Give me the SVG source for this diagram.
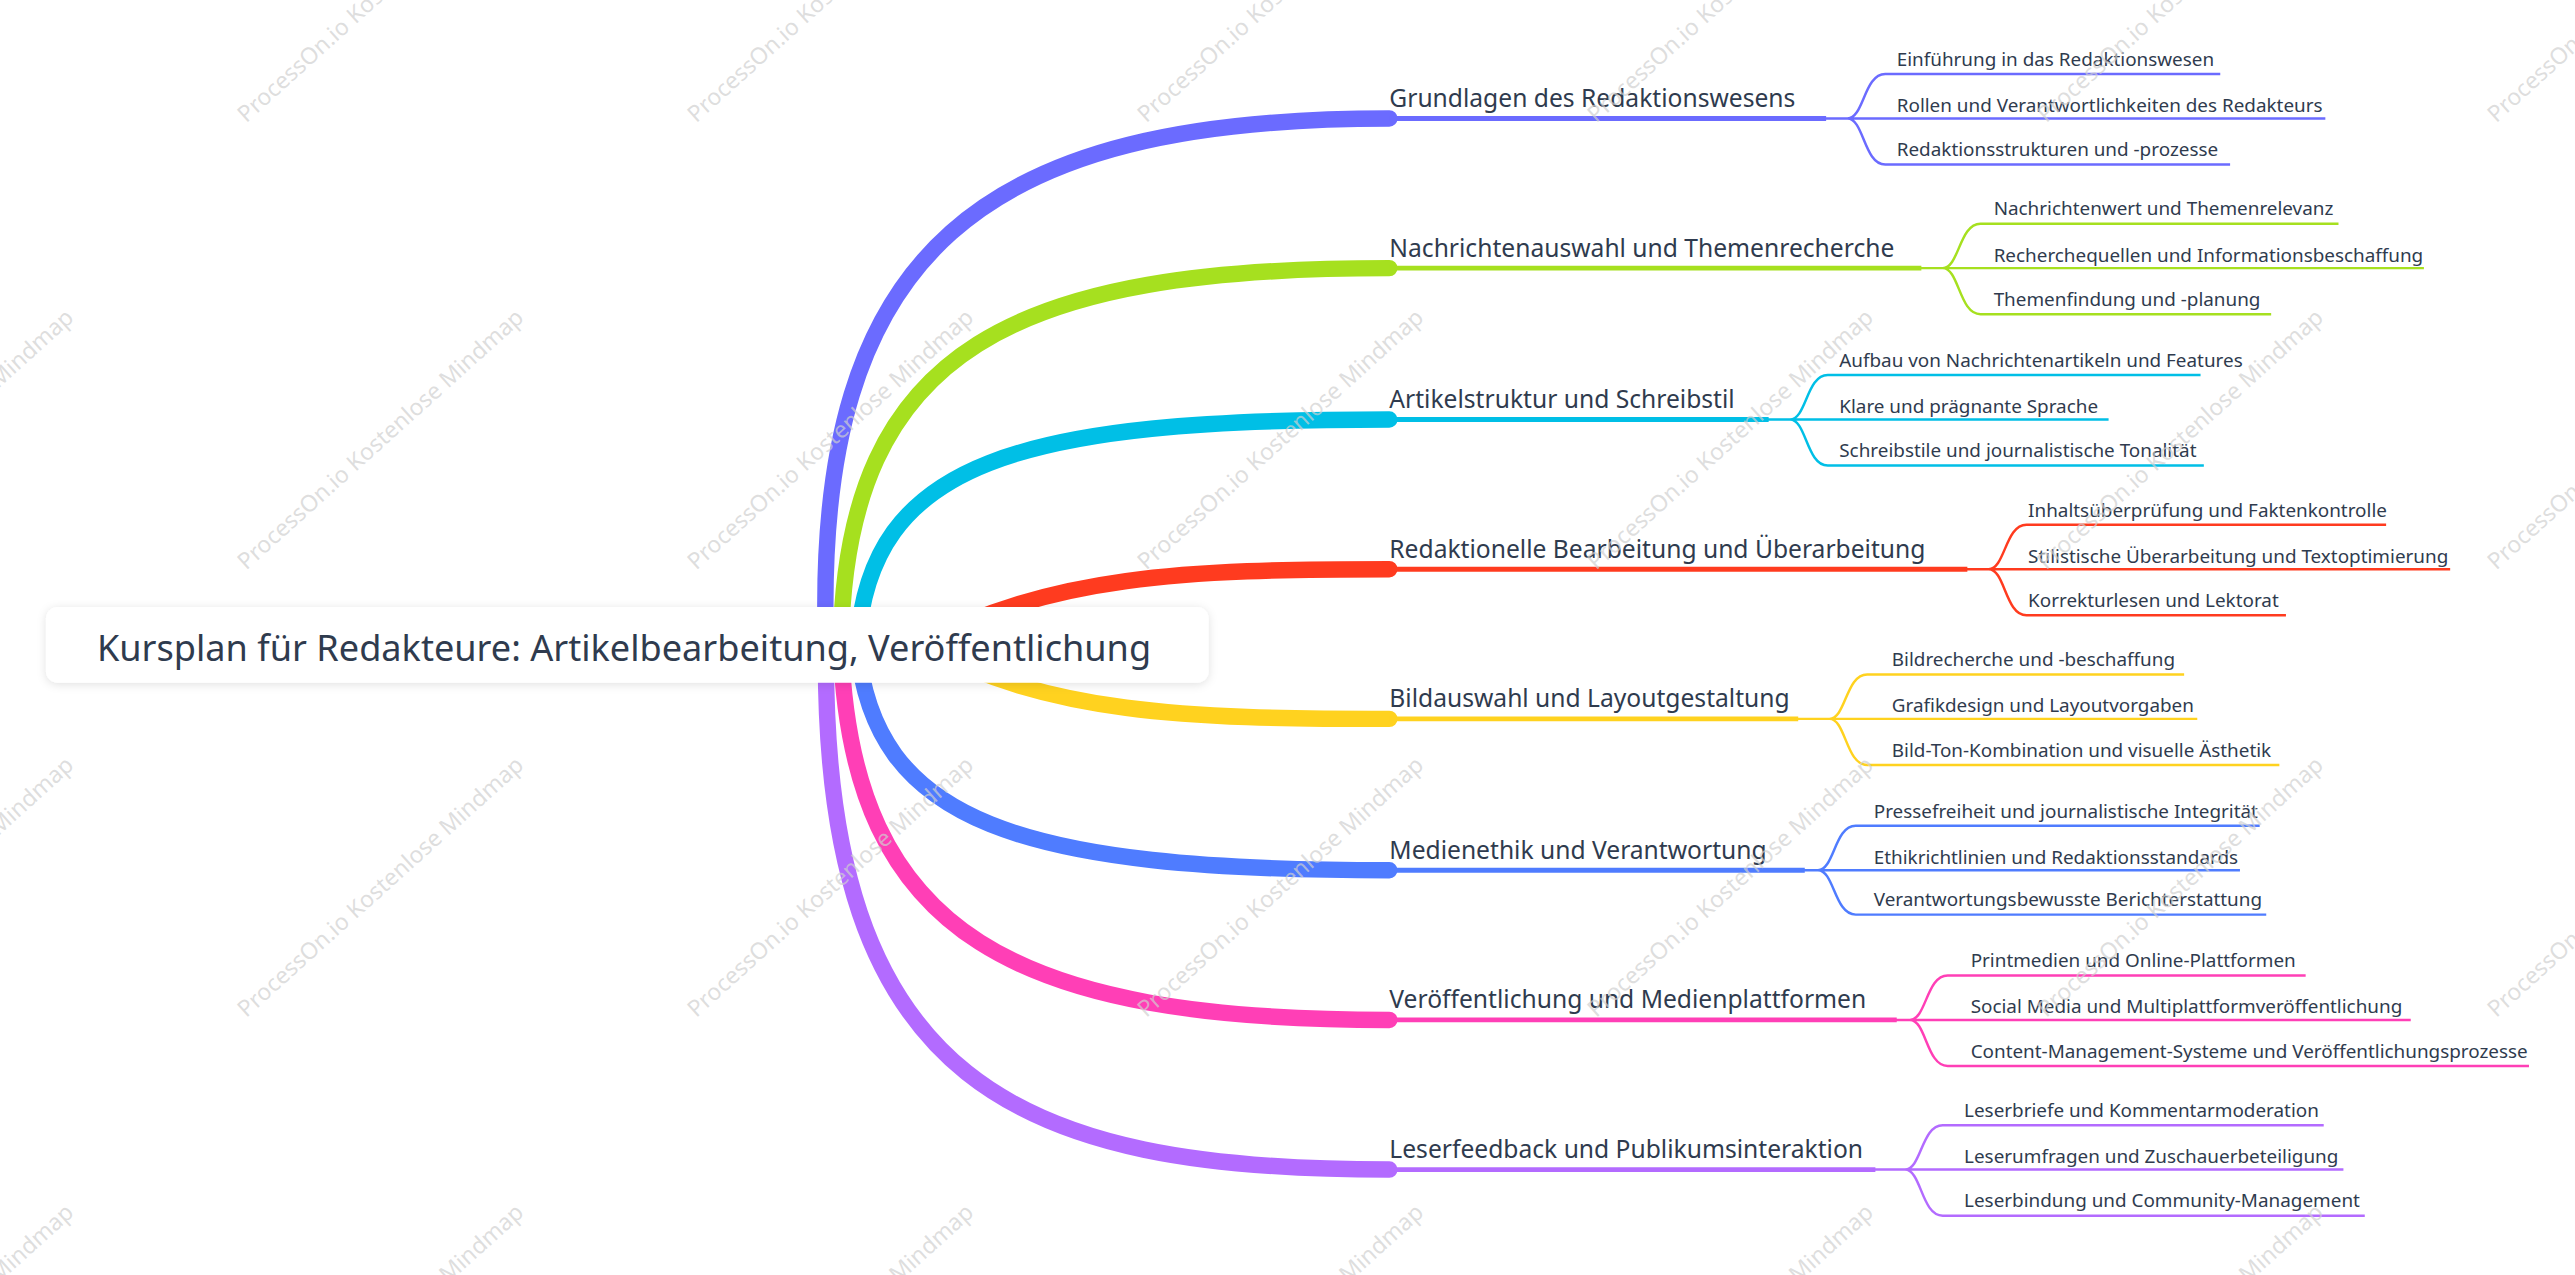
<svg xmlns="http://www.w3.org/2000/svg" width="2575" height="1275" viewBox="0 0 2575 1275">
<defs>
<style>
text{font-family:"Noto Sans","Open Sans","Liberation Sans",sans-serif;fill:#2f3b4e}
.m{font-size:15px}
.c{font-size:11.5px}
.br{fill:none;stroke-linecap:round}
.ul{fill:none;stroke-width:3}
.cl{fill:none;stroke-width:1.5}
.wm{font-size:14px;fill:#cfcfcf;fill-opacity:0.7}
</style>
<filter id="sh" x="-5%" y="-30%" width="110%" height="160%"><feDropShadow dx="0" dy="1" stdDeviation="3" flood-color="#000" flood-opacity="0.12"/></filter>
</defs>
<rect width="2575" height="1275" fill="#fff"/>
<g transform="scale(1.6422,1.645)">
<g id="connectors">
<path class="br" stroke="#6b6bff" stroke-width="10" d="M503 392 C495 150 600 72 846 72"/>
<path class="br" stroke="#a6e01f" stroke-width="10" d="M512 392 C515 210 620 163 846 163"/>
<path class="br" stroke="#00bfe6" stroke-width="10" d="M522 392 C530 280 620 255 846 255"/>
<path class="br" stroke="#ff3b1f" stroke-width="10" d="M560 392 C640 350 720 346 846 346"/>
<path class="br" stroke="#ffd21f" stroke-width="10" d="M560 392 C640 434 720 437 846 437"/>
<path class="br" stroke="#4f7cff" stroke-width="10" d="M522 392 C532 500 620 529 846 529"/>
<path class="br" stroke="#ff3fb6" stroke-width="10" d="M512 392 C518 570 620 620 846 620"/>
<path class="br" stroke="#b36bff" stroke-width="10" d="M503 392 C500 660 620 711 846 711"/>
<path class="ul" stroke="#6b6bff" d="M846 72H1112"/>
<path class="ul" stroke="#a6e01f" d="M846 163H1170"/>
<path class="ul" stroke="#00bfe6" d="M846 255H1077"/>
<path class="ul" stroke="#ff3b1f" d="M846 346H1198"/>
<path class="ul" stroke="#ffd21f" d="M846 437H1095"/>
<path class="ul" stroke="#4f7cff" d="M846 529H1099"/>
<path class="ul" stroke="#ff3fb6" d="M846 620H1155"/>
<path class="ul" stroke="#b36bff" d="M846 711H1142"/>
<g stroke="#6b6bff" class="cl"><path d="M1110 72H1125C1135 72 1135 45 1148 45H1352M1110 72H1416M1110 72H1125C1135 72 1135 100 1148 100H1358"/></g>
<g stroke="#a6e01f" class="cl"><path d="M1168 163H1183C1193 163 1193 136 1206 136H1424M1168 163H1476M1168 163H1183C1193 163 1193 191 1206 191H1383"/></g>
<g stroke="#00bfe6" class="cl"><path d="M1075 255H1090C1100 255 1100 228 1113 228H1340M1075 255H1284M1075 255H1090C1100 255 1100 283 1113 283H1342"/></g>
<g stroke="#ff3b1f" class="cl"><path d="M1196 346H1211C1221 346 1221 319 1234 319H1453M1196 346H1492M1196 346H1211C1221 346 1221 374 1234 374H1392"/></g>
<g stroke="#ffd21f" class="cl"><path d="M1093 437H1114C1124 437 1124 410 1137 410H1330M1093 437H1338M1093 437H1114C1124 437 1124 465 1137 465H1388"/></g>
<g stroke="#4f7cff" class="cl"><path d="M1097 529H1107C1117 529 1117 502 1130 502H1376M1097 529H1364M1097 529H1107C1117 529 1117 556 1130 556H1380"/></g>
<g stroke="#ff3fb6" class="cl"><path d="M1153 620H1163C1173 620 1173 593 1186 593H1404M1153 620H1468M1153 620H1163C1173 620 1173 648 1186 648H1540"/></g>
<g stroke="#b36bff" class="cl"><path d="M1140 711H1160C1170 711 1170 684 1183 684H1415M1140 711H1427M1140 711H1160C1170 711 1170 739 1183 739H1440"/></g>
</g>
<g id="root"><rect x="28" y="369" width="708" height="46" rx="7" fill="#fff" filter="url(#sh)"/><text x="380" y="402" text-anchor="middle" style="font-size:22px">Kursplan für Redakteure: Artikelbearbeitung, Veröffentlichung</text></g>
<g id="b1"><text class="m" x="846" y="65">Grundlagen des Redaktionswesens</text><text class="c" x="1155" y="40">Einführung in das Redaktionswesen</text><text class="c" x="1155" y="68">Rollen und Verantwortlichkeiten des Redakteurs</text><text class="c" x="1155" y="95">Redaktionsstrukturen und -prozesse</text></g>
<g id="b2"><text class="m" x="846" y="156">Nachrichtenauswahl und Themenrecherche</text><text class="c" x="1214" y="131">Nachrichtenwert und Themenrelevanz</text><text class="c" x="1214" y="159">Recherchequellen und Informationsbeschaffung</text><text class="c" x="1214" y="186">Themenfindung und -planung</text></g>
<g id="b3"><text class="m" x="846" y="248">Artikelstruktur und Schreibstil</text><text class="c" x="1120" y="223">Aufbau von Nachrichtenartikeln und Features</text><text class="c" x="1120" y="251">Klare und prägnante Sprache</text><text class="c" x="1120" y="278">Schreibstile und journalistische Tonalität</text></g>
<g id="b4"><text class="m" x="846" y="339">Redaktionelle Bearbeitung und Überarbeitung</text><text class="c" x="1235" y="314">Inhaltsüberprüfung und Faktenkontrolle</text><text class="c" x="1235" y="342">Stilistische Überarbeitung und Textoptimierung</text><text class="c" x="1235" y="369">Korrekturlesen und Lektorat</text></g>
<g id="b5"><text class="m" x="846" y="430">Bildauswahl und Layoutgestaltung</text><text class="c" x="1152" y="405">Bildrecherche und -beschaffung</text><text class="c" x="1152" y="433">Grafikdesign und Layoutvorgaben</text><text class="c" x="1152" y="460">Bild-Ton-Kombination und visuelle Ästhetik</text></g>
<g id="b6"><text class="m" x="846" y="522">Medienethik und Verantwortung</text><text class="c" x="1141" y="497">Pressefreiheit und journalistische Integrität</text><text class="c" x="1141" y="525">Ethikrichtlinien und Redaktionsstandards</text><text class="c" x="1141" y="551">Verantwortungsbewusste Berichterstattung</text></g>
<g id="b7"><text class="m" x="846" y="613">Veröffentlichung und Medienplattformen</text><text class="c" x="1200" y="588">Printmedien und Online-Plattformen</text><text class="c" x="1200" y="616">Social Media und Multiplattformveröffentlichung</text><text class="c" x="1200" y="643">Content-Management-Systeme und Veröffentlichungsprozesse</text></g>
<g id="b8"><text class="m" x="846" y="704">Leserfeedback und Publikumsinteraktion</text><text class="c" x="1196" y="679">Leserbriefe und Kommentarmoderation</text><text class="c" x="1196" y="707">Leserumfragen und Zuschauerbeteiligung</text><text class="c" x="1196" y="734">Leserbindung und Community-Management</text></g>
<g id="watermarks">
<text class="wm" transform="translate(-124 75) rotate(-42)">ProcessOn.io Kostenlose Mindmap</text>
<text class="wm" transform="translate(150 75) rotate(-42)">ProcessOn.io Kostenlose Mindmap</text>
<text class="wm" transform="translate(424 75) rotate(-42)">ProcessOn.io Kostenlose Mindmap</text>
<text class="wm" transform="translate(698 75) rotate(-42)">ProcessOn.io Kostenlose Mindmap</text>
<text class="wm" transform="translate(972 75) rotate(-42)">ProcessOn.io Kostenlose Mindmap</text>
<text class="wm" transform="translate(1246 75) rotate(-42)">ProcessOn.io Kostenlose Mindmap</text>
<text class="wm" transform="translate(1520 75) rotate(-42)">ProcessOn.io Kostenlose Mindmap</text>
<text class="wm" transform="translate(-124 347) rotate(-42)">ProcessOn.io Kostenlose Mindmap</text>
<text class="wm" transform="translate(150 347) rotate(-42)">ProcessOn.io Kostenlose Mindmap</text>
<text class="wm" transform="translate(424 347) rotate(-42)">ProcessOn.io Kostenlose Mindmap</text>
<text class="wm" transform="translate(698 347) rotate(-42)">ProcessOn.io Kostenlose Mindmap</text>
<text class="wm" transform="translate(972 347) rotate(-42)">ProcessOn.io Kostenlose Mindmap</text>
<text class="wm" transform="translate(1246 347) rotate(-42)">ProcessOn.io Kostenlose Mindmap</text>
<text class="wm" transform="translate(1520 347) rotate(-42)">ProcessOn.io Kostenlose Mindmap</text>
<text class="wm" transform="translate(-124 619) rotate(-42)">ProcessOn.io Kostenlose Mindmap</text>
<text class="wm" transform="translate(150 619) rotate(-42)">ProcessOn.io Kostenlose Mindmap</text>
<text class="wm" transform="translate(424 619) rotate(-42)">ProcessOn.io Kostenlose Mindmap</text>
<text class="wm" transform="translate(698 619) rotate(-42)">ProcessOn.io Kostenlose Mindmap</text>
<text class="wm" transform="translate(972 619) rotate(-42)">ProcessOn.io Kostenlose Mindmap</text>
<text class="wm" transform="translate(1246 619) rotate(-42)">ProcessOn.io Kostenlose Mindmap</text>
<text class="wm" transform="translate(1520 619) rotate(-42)">ProcessOn.io Kostenlose Mindmap</text>
<text class="wm" transform="translate(-124 891) rotate(-42)">ProcessOn.io Kostenlose Mindmap</text>
<text class="wm" transform="translate(150 891) rotate(-42)">ProcessOn.io Kostenlose Mindmap</text>
<text class="wm" transform="translate(424 891) rotate(-42)">ProcessOn.io Kostenlose Mindmap</text>
<text class="wm" transform="translate(698 891) rotate(-42)">ProcessOn.io Kostenlose Mindmap</text>
<text class="wm" transform="translate(972 891) rotate(-42)">ProcessOn.io Kostenlose Mindmap</text>
<text class="wm" transform="translate(1246 891) rotate(-42)">ProcessOn.io Kostenlose Mindmap</text>
<text class="wm" transform="translate(1520 891) rotate(-42)">ProcessOn.io Kostenlose Mindmap</text>
</g>
</g>
</svg>
